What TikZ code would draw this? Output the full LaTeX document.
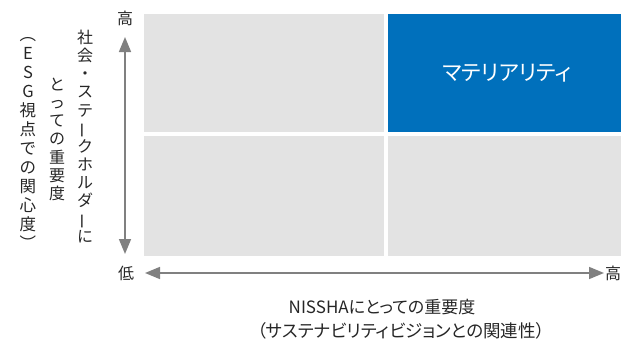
\documentclass[tikz,border=0pt]{standalone}
\usepackage{fontspec}
\usepackage{graphicx}
\setmainfont[RawFeature=+palt]{Noto Sans CJK JP}
\newfontfamily\vfont{Noto Sans CJK JP}
\usetikzlibrary{arrows.meta}
\definecolor{cellgray}{HTML}{E3E3E3}
\definecolor{matblue}{HTML}{0070BC}
\definecolor{axisgray}{HTML}{808080}
\newcommand{\vbar}{\rotatebox[origin=c]{90}{ー}}
\tikzset{
  cell/.style={fill=cellgray, draw=none, inner sep=0pt, anchor=north west},
  axis/.style={draw=axisgray, line width=1.6pt, {Triangle[width=12pt,length=15pt]}-{Triangle[width=12pt,length=15pt]}},
  lbl/.style={inner sep=0pt, text=black!85, font=\fontsize{16}{18}\selectfont},
  vtext/.style={inner sep=0pt, align=center, text=black!85, font=\vfont\fontsize{16}{18.1}\selectfont}
}
\begin{document}
\begin{tikzpicture}[x=1pt,y=-1pt]
\useasboundingbox (0,0) rectangle (621,348);
% cells
\node[cell, minimum width=240pt, minimum height=118pt] (c11) at (144,14) {};
\node[cell, fill=matblue, minimum width=233pt, minimum height=118pt] (c12) at (388,14) {};
\node[cell, minimum width=240pt, minimum height=120pt] (c21) at (144,136) {};
\node[cell, minimum width=233pt, minimum height=120pt] (c22) at (388,136) {};
\node[inner sep=0pt, text=white, font=\fontsize{21.5}{22}\selectfont] (mat) at (507,73) {マテリアリティ};
% axes
\coordinate (vt) at (125,37);
\coordinate (vb) at (125,254);
\draw[axis] (vt) -- (vb);
\coordinate (hl) at (145,273);
\coordinate (hr) at (604,273);
\draw[axis] (hl) -- (hr);
\node[lbl] (hiv) at (125,18) {高};
\node[lbl] (lo) at (126,273) {低};
\node[lbl] (hih) at (613,273) {高};
% vertical labels
\node[vtext, anchor=north] (v1) at (85,30) {社\\会\\・\\ス\\テ\\\vbar\\ク\\ホ\\ル\\ダ\\\vbar\\に};
\node[vtext, anchor=north] (v2) at (57,78) {と\\っ\\て\\の\\重\\要\\度};
\node[vtext, anchor=north, font=\vfont\fontsize{16.5}{19}\selectfont] (v3) at (28,37) {︵\\E\\S\\G\\視\\点\\で\\の\\関\\心\\度\\︶};
% bottom labels
\node[lbl, font=\fontsize{17}{18}\selectfont] (b1) at (382,307) {NISSHAにとっての重要度};
\node[lbl, font=\fontsize{17.5}{18}\selectfont] (b2) at (401,331) {（サステナビリティビジョンとの関連性）};
\end{tikzpicture}
\end{document}
